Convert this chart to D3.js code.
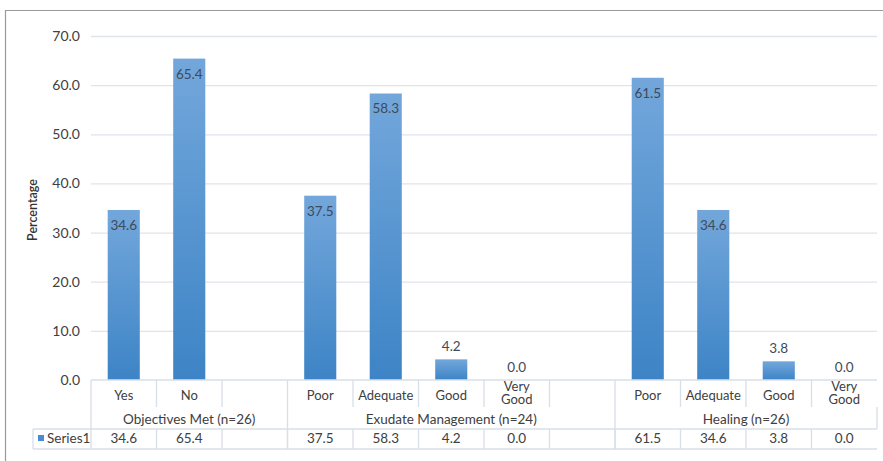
<!DOCTYPE html>
<html>
<head>
<meta charset="utf-8">
<script src="https://cdn.jsdelivr.net/npm/d3@7"></script>
<style>
body{margin:0;background:#fff;}
text{font-family:Lato,"Open Sans",sans-serif;}
</style>
</head>
<body>
<div id="chart"></div>
<script>
var w=883;
var h=461;

// chart data
var groups=["Objectives Met (n=26)","Exudate Management (n=24)","Healing (n=26)"];
var categories=["Yes","No","","Poor","Adequate","Good","Very Good","","Poor","Adequate","Good","Very Good"];
var groupOf=[0,0,0,1,1,1,1,1,2,2,2,2];
var values=[34.6,65.4,null,37.5,58.3,4.2,0.0,null,61.5,34.6,3.8,0.0];
var yTicks=[0,10,20,30,40,50,60,70];
var seriesName="Series1";

var left=91,right=877,yTop=36,zero=380;
var ids=categories.map(function(d,i){return i;});

var svg=d3.select("#chart")
  .append("svg")
  .attr("width",w)
  .attr("height",h);

// outer frame (runs off the right / bottom of the picture)
svg.append("path")
   .attr("d","M5.5,470V10.5H890")
   .attr("fill","none")
   .attr("stroke","#9a9a9a")
   .attr("stroke-width",1.2);

var defs=svg.append("defs");
var grad=defs.append("linearGradient")
   .attr("id","barGrad")
   .attr("x1",0).attr("y1",0).attr("x2",0).attr("y2",1);
grad.append("stop").attr("offset","0%").attr("stop-color","#73a7db");
grad.append("stop").attr("offset","100%").attr("stop-color","#3d84c6");

var y=d3.scaleLinear().domain([0,70]).range([zero,yTop]);
var slot=d3.scaleBand().domain(ids).range([left,right]);
var x=d3.scaleBand().domain(ids).range([left,right]).paddingInner(0.51).paddingOuter(0.255);

// gridlines
var grid=svg.append("g")
   .attr("transform","translate("+left+",0)")
   .call(d3.axisLeft(y).tickValues(yTicks.slice(1)).tickSize(-(right-left)).tickFormat(""));
grid.select(".domain").remove();
grid.selectAll("line").attr("stroke","#dfe4ec").attr("stroke-width",1.3);

// y tick labels
var ya=svg.append("g")
   .attr("transform","translate(80,0)")
   .call(d3.axisLeft(y).tickValues(yTicks).tickSize(0).tickPadding(0).tickFormat(d3.format(".1f")));
ya.select(".domain").remove();
ya.selectAll("text")
  .attr("fill","#404040")
  .style("font-size","14px")
  .style("font-family","Lato,sans-serif");

svg.append("text")
   .attr("transform","translate(37,210) rotate(-90)")
   .attr("text-anchor","middle")
   .attr("fill","#333")
   .style("font-size","12.5px")
   .style("font-weight","600")
   .text("Percentage");

// bars
var barData=values.map(function(v,i){return {i:i,v:v};}).filter(function(d){return d.v!==null;});
svg.selectAll("rect.bar")
   .data(barData)
   .enter()
   .append("rect")
   .attr("class","bar")
   .attr("x",function(d){return x(d.i);})
   .attr("width",x.bandwidth())
   .attr("y",function(d){return y(d.v);})
   .attr("height",function(d){return zero-y(d.v);})
   .attr("fill","url(#barGrad)");

// data labels
svg.selectAll("text.lbl")
   .data(barData)
   .enter()
   .append("text")
   .attr("class","lbl")
   .attr("x",function(d){return x(d.i)+x.bandwidth()/2;})
   .attr("y",function(d){
     var t=y(d.v);
     return (zero-t)>25 ? t+20 : t-8;
   })
   .attr("text-anchor","middle")
   .attr("fill","#3f4a5a")
   .style("font-size","13.5px")
   .text(function(d){return d3.format(".1f")(d.v);});

// data table lines
var lineCol="#d9dfe8";
var tbl=svg.append("g").attr("stroke",lineCol).attr("stroke-width",1.3);
tbl.append("line").attr("x1",left).attr("x2",right).attr("y1",zero).attr("y2",zero);
tbl.append("line").attr("x1",33).attr("x2",right).attr("y1",429).attr("y2",429);
tbl.append("line").attr("x1",33).attr("x2",right).attr("y1",449).attr("y2",449);
tbl.append("line").attr("x1",33).attr("x2",33).attr("y1",429).attr("y2",449);

var bounds=ids.concat([ids.length]);
tbl.selectAll("line.sep")
   .data(bounds)
   .enter()
   .append("line")
   .attr("class","sep")
   .attr("x1",function(i){return i<ids.length?slot(i):right;})
   .attr("x2",function(i){return i<ids.length?slot(i):right;})
   .attr("y1",function(i){return i===ids.length?429:zero;})
   .attr("y2",function(i){
     var edge=(i===0)||(i<ids.length&&groupOf[i]!==groupOf[i-1]);
     return edge?449:407;
   });
tbl.selectAll("line.cell")
   .data(bounds.slice(1,-1))
   .enter()
   .append("line")
   .attr("class","cell")
   .attr("x1",function(i){return slot(i);})
   .attr("x2",function(i){return slot(i);})
   .attr("y1",429)
   .attr("y2",449);

// category labels
var cat=svg.selectAll("text.cat")
   .data(ids)
   .enter()
   .append("text")
   .attr("class","cat")
   .attr("x",function(i){return slot(i)+slot.bandwidth()/2;})
   .attr("text-anchor","middle")
   .attr("fill","#404040")
   .style("font-size","13px");
cat.each(function(i){
  var words=categories[i].split(" ");
  var t=d3.select(this);
  if(words.length===1){
    t.attr("y",400).text(words[0]);
  }else{
    t.attr("y",391);
    words.forEach(function(wd,k){
      t.append("tspan").attr("x",slot(i)+slot.bandwidth()/2).attr("dy",k?12.5:0).text(wd);
    });
  }
});

// group labels
svg.selectAll("text.grp")
   .data(groups)
   .enter()
   .append("text")
   .attr("class","grp")
   .attr("x",function(g,gi){
     var idx=ids.filter(function(i){return groupOf[i]===gi;});
     return (slot(idx[0])+slot(idx[idx.length-1])+slot.bandwidth())/2;
   })
   .attr("y",424)
   .attr("text-anchor","middle")
   .attr("fill","#404040")
   .style("font-size","13.5px")
   .text(function(g){return g;});

// table values
svg.selectAll("text.val")
   .data(barData)
   .enter()
   .append("text")
   .attr("class","val")
   .attr("x",function(d){return slot(d.i)+slot.bandwidth()/2;})
   .attr("y",443)
   .attr("text-anchor","middle")
   .attr("fill","#404040")
   .style("font-size","13.5px")
   .text(function(d){return d3.format(".1f")(d.v);});

// legend key
svg.append("rect")
   .attr("x",38).attr("y",435)
   .attr("width",6).attr("height",6)
   .attr("fill","#4a8ad0");
svg.append("text")
   .attr("x",47).attr("y",443)
   .attr("fill","#404040")
   .style("font-size","13.5px")
   .text(seriesName);
</script>
</body>
</html>
